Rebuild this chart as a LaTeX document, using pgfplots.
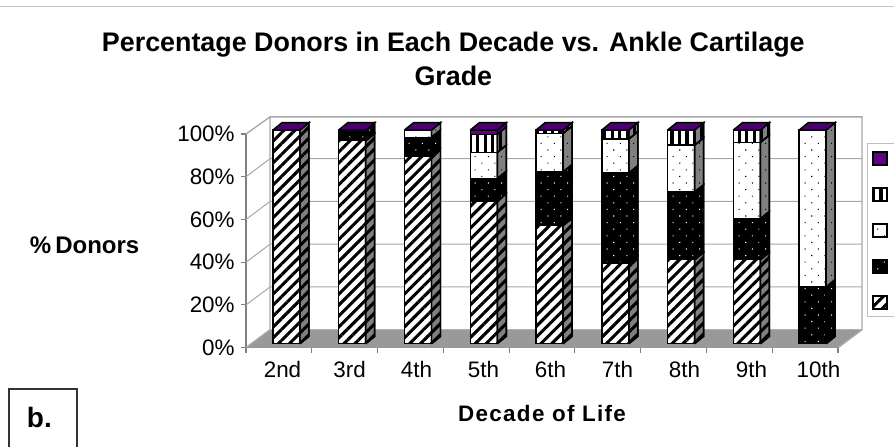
\documentclass[border=0pt]{standalone}
\usepackage{pgfplots}
\usepackage{pgfplotstable}
\usepackage{fontspec}
\setmainfont{Liberation Sans}
\newfontface\spaced[LetterSpace=6]{Liberation Sans Bold}
\pgfplotsset{compat=1.18}
\usetikzlibrary{patterns.meta}
\definecolor{wallgrey}{HTML}{A8A8A8}
\definecolor{floorgrey}{HTML}{999999}
\definecolor{sidegrey}{HTML}{808080}
\definecolor{topviolet}{HTML}{4B0070}
\definecolor{keyviolet}{HTML}{640080}
\pgfplotstableread{
x s1 s2 s3 s4 s5
0.615 100 0 0 0 0
1.615 95 5 0 0 0
2.615 87.9 8.7 3.4 0 0
3.615 66.8 10.5 12.2 8.5 2
4.615 55.3 25.1 18 1.6 0
5.615 37.8 42.1 15.9 4.2 0
6.615 39.3 31.7 21.9 7.1 0
7.615 39.3 19.2 35.7 5.8 0
8.615 0.6 26 73.4 0 0
}\datatable
\tikzset{
 pdiag/.style={pattern={Lines[angle=45,distance=5.8pt,line width=2.3pt]},pattern color=black},
 pdots/.style={pattern={Dots[angle=45,distance=7pt,radius=0.55pt]}},
 pvert/.style={pattern={Lines[angle=90,distance=5.6pt,line width=2.4pt]},pattern color=black},
 fdiag/.style={draw=black,line width=1.1pt,preaction={fill=white},pdiag},
 fblack/.style={draw=black,line width=1.1pt,preaction={fill=black},pdots,pattern color=white},
 fwhite/.style={draw=black,line width=1.1pt,preaction={fill=white},pdots,pattern color=black},
 fvert/.style={draw=black,line width=1.1pt,preaction={fill=white},pvert},
 fpurp/.style={draw=black,line width=1.1pt,fill=keyviolet},
 sdiag/.style={draw=black,line width=1.1pt,preaction={fill=sidegrey},pdiag},
 sblack/.style={draw=black,line width=1.1pt,preaction={fill=black},pdots,pattern color=white},
 swhite/.style={draw=black,line width=1.1pt,preaction={fill=sidegrey},pdots,pattern color=black},
 svert/.style={draw=black,line width=1.1pt,preaction={fill=sidegrey},pvert},
 spurp/.style={draw=black,line width=1.1pt,fill=topviolet},
}
\pgfplotsset{common/.style={
 at={(184.5pt,74.475pt)},anchor=south west,
 scale only axis,width=444pt,height=160.275pt,
 xmin=0,xmax=9,ymin=0,ymax=100,clip=false},
 keyshape/.style={legend image code/.code={\pgfpathrectangle{\pgfpoint{0pt}{-4.8pt}}{\pgfpoint{10.5pt}{9.6pt}}\pgfusepath{discard}\draw[overlay,##1] (0pt,-6.7pt) rectangle (10.5pt,2.9pt);}}}
\newcommand\sideface[4]{%
 \pgfmathsetmacro\xa{#1+0.82}\pgfmathsetmacro\xb{#1+0.957}%
 \pgfmathsetmacro\ya{#2+1.87}\pgfmathsetmacro\yb{#3+1.87}%
 \pgfmathsetmacro\yc{#2+5.3}\pgfmathsetmacro\yd{#3+5.3}%
 \addplot[mark=none,#4] coordinates {(\xa,\ya)(\xb,\yc)(\xb,\yd)(\xa,\yb)(\xa,\ya)};}
\newcommand\topface[1]{%
 \pgfmathsetmacro\xa{#1+0.41}\pgfmathsetmacro\xb{#1+0.82}\pgfmathsetmacro\xc{#1+0.957}\pgfmathsetmacro\xd{#1+0.547}%
 \addplot[mark=none,spurp] coordinates {(\xa,101.87)(\xb,101.87)(\xc,105.3)(\xd,105.3)(\xa,101.87)};}
\begin{document}
\begin{tikzpicture}
\path[use as bounding box,clip] (0,0) rectangle (670.5pt,335.25pt);
\draw[color=black!22,line width=0.75pt] (0,330pt) -- (670.5pt,330pt);
% walls, floor, axes
\begin{axis}[common,
 axis x line*=bottom,axis y line*=left,
 axis line style={draw=sidegrey,line width=0.8pt,-},
 tick style={draw=sidegrey,line width=0.8pt},
 xtick={0.555,1.574,2.592,3.611,4.63,5.648,6.667,7.685,8.704},
 xticklabels={2nd,3rd,4th,5th,6th,7th,8th,9th,10th},
 major x tick style={draw=none},
 minor xtick={0,1,2,3,4,5,6,7,8,9},
 minor tick length=4pt,
 ytick={0,20,40,60,80,100},
 yticklabels={0\%,20\%,40\%,60\%,80\%,100\%},
 major tick length=4pt,
 tick align=outside,
 tick label style={font=\fontsize{16.8pt}{18pt}\selectfont},
 xticklabel style={yshift=-3pt},
 yticklabel style={xshift=-1pt},
]
\addplot[mark=none,fill=floorgrey,draw=floorgrey] coordinates {(0,0)(9,0)(9.365,8.42)(0.365,8.42)(0,0)};
\addplot[mark=none,draw=wallgrey,line width=1pt] coordinates {(0.365,8.42)(0.365,108)(9.365,108)(9.365,8.42)(9,0)};
\addplot[mark=none,draw=wallgrey,line width=1pt] coordinates {(0,100)(0.365,108)};
\addplot[mark=none,draw=wallgrey,line width=1pt] coordinates {(0,0)(0.365,8.42)};
\addplot[mark=none,draw=wallgrey,line width=0.75pt] coordinates {(0,20)(0.365,28.42)(9.365,28.42)};
\addplot[mark=none,draw=wallgrey,line width=0.75pt] coordinates {(0,40)(0.365,48.42)(9.365,48.42)};
\addplot[mark=none,draw=wallgrey,line width=0.75pt] coordinates {(0,60)(0.365,68.42)(9.365,68.42)};
\addplot[mark=none,draw=wallgrey,line width=0.75pt] coordinates {(0,80)(0.365,88.42)(9.365,88.42)};
\end{axis}
% front faces and legend
\begin{axis}[common,hide axis,
 ybar stacked,bar width=20.25pt,
 reverse legend,
 legend style={at={(1.0485,0.1437)},anchor=south west,draw=black!25,line width=0.75pt,fill=white,
   inner xsep=4.2pt,inner ysep=4.6pt,row sep=14.3pt,font=\fontsize{8pt}{9pt}\selectfont},
]
\addplot[fdiag,yshift=3pt,keyshape] table[x=x,y=s1] {\datatable};
\addplot[fblack,yshift=3pt,keyshape] table[x=x,y=s2] {\datatable};
\addplot[fwhite,yshift=3pt,keyshape] table[x=x,y=s3] {\datatable};
\addplot[fvert,yshift=3pt,keyshape] table[x=x,y=s4] {\datatable};
\addplot[fpurp,yshift=3pt,keyshape] table[x=x,y=s5] {\datatable};
\addlegendentry{\phantom{x}}\addlegendentry{\phantom{x}}\addlegendentry{\phantom{x}}\addlegendentry{\phantom{x}}\addlegendentry{\phantom{x}}
\end{axis}
% side and top faces
\begin{axis}[common,hide axis]
\sideface{0}{0}{100}{sdiag}
\sideface{1}{0}{95}{sdiag}\sideface{1}{95}{100}{sblack}
\sideface{2}{0}{87.9}{sdiag}\sideface{2}{87.9}{96.6}{sblack}\sideface{2}{96.6}{100}{swhite}
\sideface{3}{0}{66.8}{sdiag}\sideface{3}{66.8}{77.3}{sblack}\sideface{3}{77.3}{89.5}{swhite}\sideface{3}{89.5}{98}{svert}\sideface{3}{98}{100}{spurp}
\sideface{4}{0}{55.3}{sdiag}\sideface{4}{55.3}{80.4}{sblack}\sideface{4}{80.4}{98.4}{swhite}\sideface{4}{98.4}{100}{svert}
\sideface{5}{0}{37.8}{sdiag}\sideface{5}{37.8}{79.9}{sblack}\sideface{5}{79.9}{95.8}{swhite}\sideface{5}{95.8}{100}{svert}
\sideface{6}{0}{39.3}{sdiag}\sideface{6}{39.3}{71}{sblack}\sideface{6}{71}{92.9}{swhite}\sideface{6}{92.9}{100}{svert}
\sideface{7}{0}{39.3}{sdiag}\sideface{7}{39.3}{58.5}{sblack}\sideface{7}{58.5}{94.2}{swhite}\sideface{7}{94.2}{100}{svert}
\sideface{8}{0}{0.6}{sdiag}\sideface{8}{0.6}{26.6}{sblack}\sideface{8}{26.6}{100}{swhite}
\topface{0}\topface{1}\topface{2}\topface{3}\topface{4}\topface{5}\topface{6}\topface{7}\topface{8}
\end{axis}
% text
\node[font=\fontsize{20.15pt}{25.5pt}\selectfont\bfseries,align=center,anchor=center] at (340pt,291pt)
 {Percentage Donors in Each Decade vs. Ankle Cartilage\\Grade};
\node[font=\fontsize{18pt}{20pt}\selectfont\bfseries,anchor=center] at (63.5pt,151pt) {\%\,Donors};
\node[font=\fontsize{16.8pt}{18pt}\spaced,anchor=center] at (406.5pt,25pt) {Decade of Life};
\draw[color=black!80,line width=1pt] (6.75pt,-2pt) -- (6.75pt,43.5pt) -- (57.75pt,43.5pt) -- (57.75pt,-2pt);
\node[font=\fontsize{21pt}{24pt}\selectfont\bfseries,anchor=center] at (29.5pt,22pt) {b.};
\end{tikzpicture}
\end{document}
